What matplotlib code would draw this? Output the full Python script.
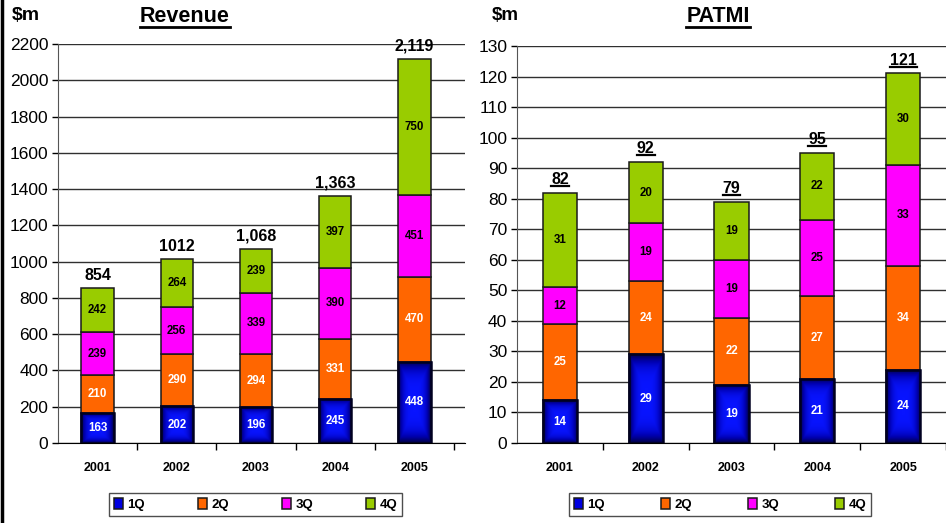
import matplotlib

matplotlib.use("Agg")

import matplotlib.pyplot as plt
import numpy as np
from matplotlib.colors import LinearSegmentedColormap
from matplotlib.lines import Line2D

plt.rcParams["font.family"] = ["Liberation Sans", "DejaVu Sans"]

years = ["2001", "2002", "2003", "2004", "2005"]
quarters = ["1Q", "2Q", "3Q", "4Q"]

# Revenue ($m) per quarter
rev_1q = [163, 202, 196, 245, 448]
rev_2q = [210, 290, 294, 331, 470]
rev_3q = [239, 256, 339, 390, 451]
rev_4q = [242, 264, 239, 397, 750]
rev_total = ["854", "1012", "1,068", "1,363", "2,119"]

# PATMI ($m) per quarter
pat_1q = [14, 29, 19, 21, 24]
pat_2q = [25, 24, 22, 27, 34]
pat_3q = [12, 19, 19, 25, 33]
pat_4q = [31, 20, 19, 22, 30]
pat_total = ["82", "92", "79", "95", "121"]

colors = ["#0000e0", "#ff6600", "#ff00ff", "#99cc00"]
label_colors = ["white", "white", "black", "black"]

blue_cmap = LinearSegmentedColormap.from_list("blue", ["#000040", "#0000b0", "#0814ff"])
u = np.linspace(-1, 1, 80)
U, V = np.meshgrid(u, u)
grad = 1 - np.maximum(np.abs(U) ** 3, np.abs(V) ** 4)

fig = plt.figure(figsize=(9.46, 5.23), dpi=100)
W, H = 946, 523


def underline(t, lw=1.6):
    fig.canvas.draw()
    bb = t.get_window_extent()
    y = (bb.y0 + 1) / H
    fig.add_artist(Line2D([bb.x0 / W, bb.x1 / W], [y, y], color="black", lw=lw))


def panel(ax, series, totals, ymax, ystep, width, xmax):
    x = np.arange(len(years))
    bottom = np.zeros(len(years))
    for i, vals in enumerate(series):
        bars = ax.bar(x, vals, width, bottom=bottom, color=colors[i],
                      edgecolor="#1a1a1a", linewidth=1.1, label=quarters[i], zorder=2)
        if i == 0:
            for r in bars:
                im = ax.imshow(grad, cmap=blue_cmap, aspect="auto", zorder=2.5,
                               extent=(r.get_x(), r.get_x() + r.get_width(), r.get_y(), r.get_y() + r.get_height()))
                im.set_clip_path(r)
            ax.bar(x, vals, width, bottom=bottom, fill=False, edgecolor="#000020", linewidth=1.8, zorder=3)
        for xi, b, v in zip(x, bottom, vals):
            ax.text(xi, b + v / 2, str(v), ha="center", va="center", fontsize=8.3,
                    fontweight="bold", color=label_colors[i], zorder=4)
        bottom = bottom + np.array(vals)
    tlabels = []
    for xi, top, s in zip(x, bottom, totals):
        t = ax.annotate(s, (xi, top), xytext=(0, 4), textcoords="offset points",
                        ha="center", va="bottom", fontsize=11.5, fontweight="bold", zorder=4)
        tlabels.append(t)
    ax.set_xlim(-0.5, xmax)
    ax.set_ylim(0, ymax)
    ax.set_yticks(np.arange(0, ymax + 1, ystep))
    ax.tick_params(axis="y", labelsize=12.5, length=4, direction="out", width=1, pad=3)
    ax.set_xticks(x)
    ax.set_xticklabels(years, fontsize=9, fontweight="bold")
    ax.tick_params(axis="x", length=0, pad=14)
    ax.set_xticks(np.arange(0.5, len(years)), minor=True)
    ax.tick_params(axis="x", which="minor", length=5, direction="out", width=1)
    ax.yaxis.grid(True, color="#303030", linewidth=1)
    ax.set_axisbelow(True)
    for s in ["top", "right"]:
        ax.spines[s].set_visible(False)
    ax.spines["left"].set_color("#555555")
    ax.spines["bottom"].set_color("black")
    return tlabels


ax1 = fig.add_axes([58 / W, 80 / H, (465 - 58) / W, (443 - 44) / H])
ax2 = fig.add_axes([517 / W, 80 / H, (946 - 517) / W, (443 - 46) / H])

t1 = panel(ax1, [rev_1q, rev_2q, rev_3q, rev_4q], rev_total, 2200, 200, 0.41, 4.64)
t2 = panel(ax2, [pat_1q, pat_2q, pat_3q, pat_4q], pat_total, 130, 10, 0.4, 4.41)

for ax, bb in [(ax1, (102 / W, 2 / H, 307 / W, 33 / H)), (ax2, (562 / W, 1 / H, 316 / W, 35 / H))]:
    handles = [c for c in ax.containers if c.get_label() in quarters]
    leg = fig.legend(handles=handles, labels=quarters,
                     loc="center", bbox_to_anchor=bb, mode="expand", ncol=4, fancybox=False,
                     edgecolor="#222222", handlelength=0.7, handleheight=0.9, handletextpad=0.3,
                     prop={"weight": "bold", "size": 9.5})
    leg.get_frame().set_linewidth(1.0)

fig.text(12 / W, 1 - 16 / H, r"\$m", fontsize=14, fontweight="bold", va="center", ha="left")
fig.text(505 / W, 1 - 16 / H, r"\$m", fontsize=13.5, fontweight="bold", va="center", ha="center")
tt1 = fig.text(185 / W, 1 - 17 / H, "Revenue", fontsize=15.5, fontweight="bold", ha="center", va="center")
tt2 = fig.text(718 / W, 1 - 17 / H, "PATMI", fontsize=15.5, fontweight="bold", ha="center", va="center")
underline(tt1, 2)
underline(tt2, 2)
for t in t2:
    underline(t, 1.6)

fig.add_artist(Line2D([2 / W, 2 / W], [0, 1], color="black", lw=2.5))

fig.savefig("out.png", dpi=100)
